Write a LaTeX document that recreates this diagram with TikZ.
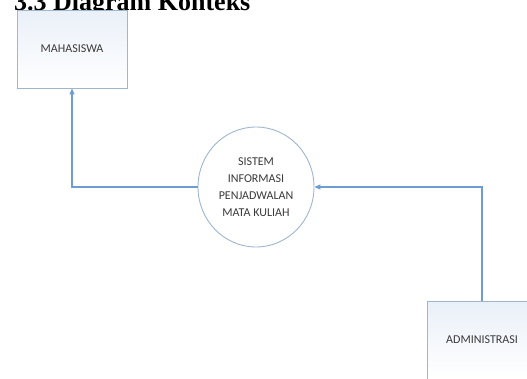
\documentclass[tikz,border=0pt]{standalone}
\usepackage{fontspec}
\setmainfont{Carlito}
\newfontfamily\titlefont{Liberation Serif}
\usetikzlibrary{shapes.geometric,arrows.meta}
\definecolor{boxline}{HTML}{9FB6CF}
\definecolor{flow}{HTML}{6E9DD0}
\definecolor{txt}{HTML}{3A3A3A}
\definecolor{boxtop}{HTML}{EAF0F8}
\tikzset{
  entity/.style={draw=boxline, line width=0.9pt, top color=boxtop, bottom color=white,
    minimum width=110pt, minimum height=78pt, inner sep=0pt,
    font=\fontsize{12}{17}\selectfont, text=txt},
  process/.style={ellipse, draw=boxline, line width=0.9pt, fill=white,
    minimum width=116pt, minimum height=120pt, inner sep=0pt, align=center,
    font=\fontsize{12}{17}\selectfont, text=txt},
  flowline/.style={draw=flow, line width=1.1pt, -{Triangle[length=6pt,width=5pt]}},
  titletext/.style={font=\titlefont\bfseries\fontsize{26}{30}\selectfont, anchor=base west, inner sep=0pt}
}
\begin{document}
\begin{tikzpicture}[x=1pt,y=-1pt]
\useasboundingbox (0,0) rectangle (527,378);
\clip (0,0) rectangle (527,378);
\node[titletext] (title) at (14,10) {3.3 Diagram Konteks};
\node[entity] (mah) at (72,49) {MAHASISWA};
\node[process] (sis) at (256,187) {SISTEM\\INFORMASI\\PENJADWALAN\\MATA KULIAH};
\node[entity] (adm) at (482,340) {ADMINISTRASI};
\draw[flowline] (sis.west) -| (mah.south);
\draw[flowline] (adm.north) |- (sis.east);
\end{tikzpicture}
\end{document}
